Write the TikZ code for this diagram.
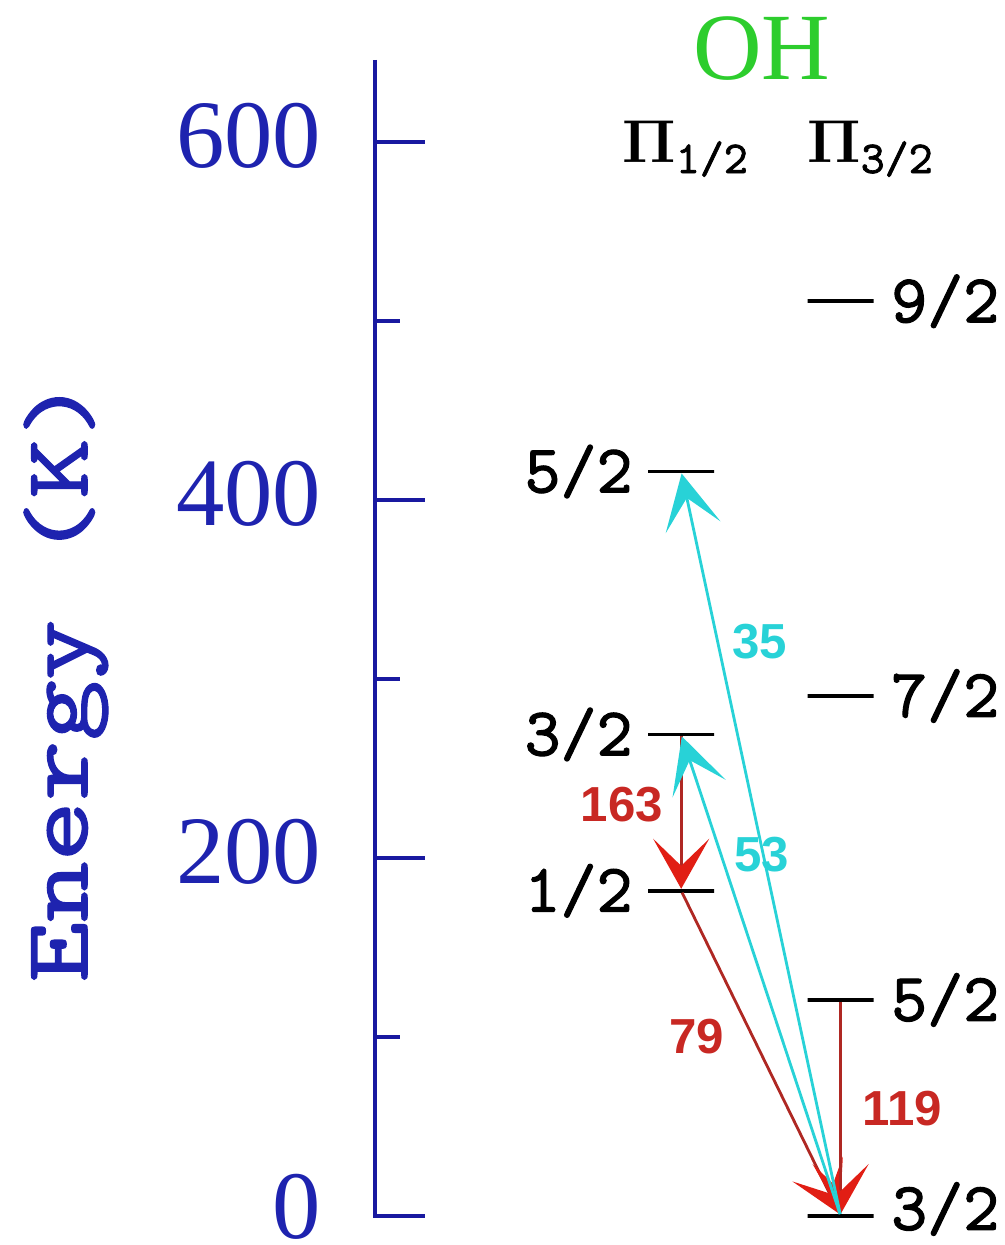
\documentclass[tikz,border=0pt]{standalone}
\usepackage{fontspec}
\setmainfont{Liberation Serif}
\setsansfont{Liberation Sans}
\newfontfamily\jfont{lmmono10-regular.otf}[FakeBold=1.6]
\newfontfamily\jfontlight{lmmono10-regular.otf}[FakeBold=1.2]
\usetikzlibrary{arrows.meta,positioning}

\definecolor{axisblue}{RGB}{25,25,160}
\definecolor{lblblue}{RGB}{30,35,175}
\definecolor{ohgreen}{RGB}{45,205,45}
\definecolor{redline}{RGB}{175,40,35}
\definecolor{redhead}{RGB}{225,30,20}
\definecolor{redtext}{RGB}{200,40,35}
\definecolor{cyanline}{RGB}{40,210,215}

\begin{document}
\begin{tikzpicture}[x=0.01cm, y=0.0179cm,
  axis/.style={draw=axisblue, line width=1.1pt},
  ticklbl/.style={font=\fontsize{27.5}{30}\selectfont, text=lblblue, anchor=east, inner sep=0pt},
  lev/.style={draw, line width=1.1pt, minimum width=0.66cm, minimum height=0pt, inner sep=0pt},
  jlbl/.style={font=\fontsize{19.5}{22}\selectfont\jfont, inner sep=0pt},
  pilbl/.style={font=\fontsize{17}{20}\selectfont\boldmath, anchor=base west, inner sep=0pt},
  cyarr/.style={draw=cyanline, line width=0.8pt, -{Stealth[length=0.55cm, width=0.56cm, inset=0.3cm]}},
  rdarr/.style={draw=redline, line width=0.8pt, -{Stealth[length=0.5cm, width=0.56cm, inset=0.27cm, color=redhead]}},
  num/.style={font=\fontsize{14}{16}\selectfont\sffamily\bfseries}
]
\useasboundingbox (0,-16.2) rectangle (1005,679.3);

%% Energy axis
\draw[axis] (375,645.8) -- (375,0) -- (425,0);
\foreach \e in {200,400,600} {
  \draw[axis] (375,\e) -- (425,\e);
}
\foreach \e in {100,300,500} {
  \draw[axis] (375,\e) -- (400,\e);
}
\foreach \e/\dy in {0/5.2, 200/3.2, 400/3.2, 600/3.2} {
  \node[ticklbl] (t\e) at (322,\e+\dy) {\e};
}
\node[font=\fontsize{26}{28}\selectfont\jfontlight, text=lblblue, rotate=90, xscale=1.26] (ylab) at (66,299.4) {Energy (K)};

%% Title and ladders
\node[font=\fontsize{27}{30}\selectfont, text=ohgreen] (oh) at (762,651.9) {OH};
\node[pilbl] (pa) at (622,588.3) {$\Pi_{\hbox{\jfont\fontsize{13}{15}\selectfont 1/2}}$};
\node[pilbl] (pb) at (807,588.3) {$\Pi_{\hbox{\jfont\fontsize{13}{15}\selectfont 3/2}}$};

%% Levels (energy in K)
\node[lev] (a12) at (681.5,181.7) {};
\node[lev] (a32) at (681.5,269.0) {};
\node[lev] (a52) at (681.5,415.9) {};
\node[lev] (b32) at (841,0) {};
\node[lev] (b52) at (841,120.7) {};
\node[lev] (b72) at (841,290.5) {};
\node[lev] (b92) at (841,511.0) {};

\node[jlbl, left=0.13cm of a12] (la12) {1/2};
\node[jlbl, left=0.13cm of a32] (la32) {3/2};
\node[jlbl, left=0.13cm of a52] (la52) {5/2};
\node[jlbl, right=0.15cm of b32, yshift=2pt] (lb32) {3/2};
\node[jlbl, right=0.15cm of b52] (lb52) {5/2};
\node[jlbl, right=0.15cm of b72] (lb72) {7/2};
\node[jlbl, right=0.15cm of b92] (lb92) {9/2};

%% Transitions
\draw[rdarr] (a32) -- (a12);
\draw[rdarr] (a12) -- (b32);
\draw[rdarr] (b52) -- (b32);
\draw[cyarr] (b32) -- (a52);
\draw[cyarr] (b32) -- (a32);

\node[num, text=cyanline] (w35) at (760,320.7) {35};
\node[num, text=cyanline] (w53) at (762,201.7) {53};
\node[num, text=redtext] (w163) at (622,229.6) {163};
\node[num, text=redtext] (w79) at (697,100.0) {79};
\node[num, text=redtext] (w119) at (903,59.8) {119};
\end{tikzpicture}
\end{document}
